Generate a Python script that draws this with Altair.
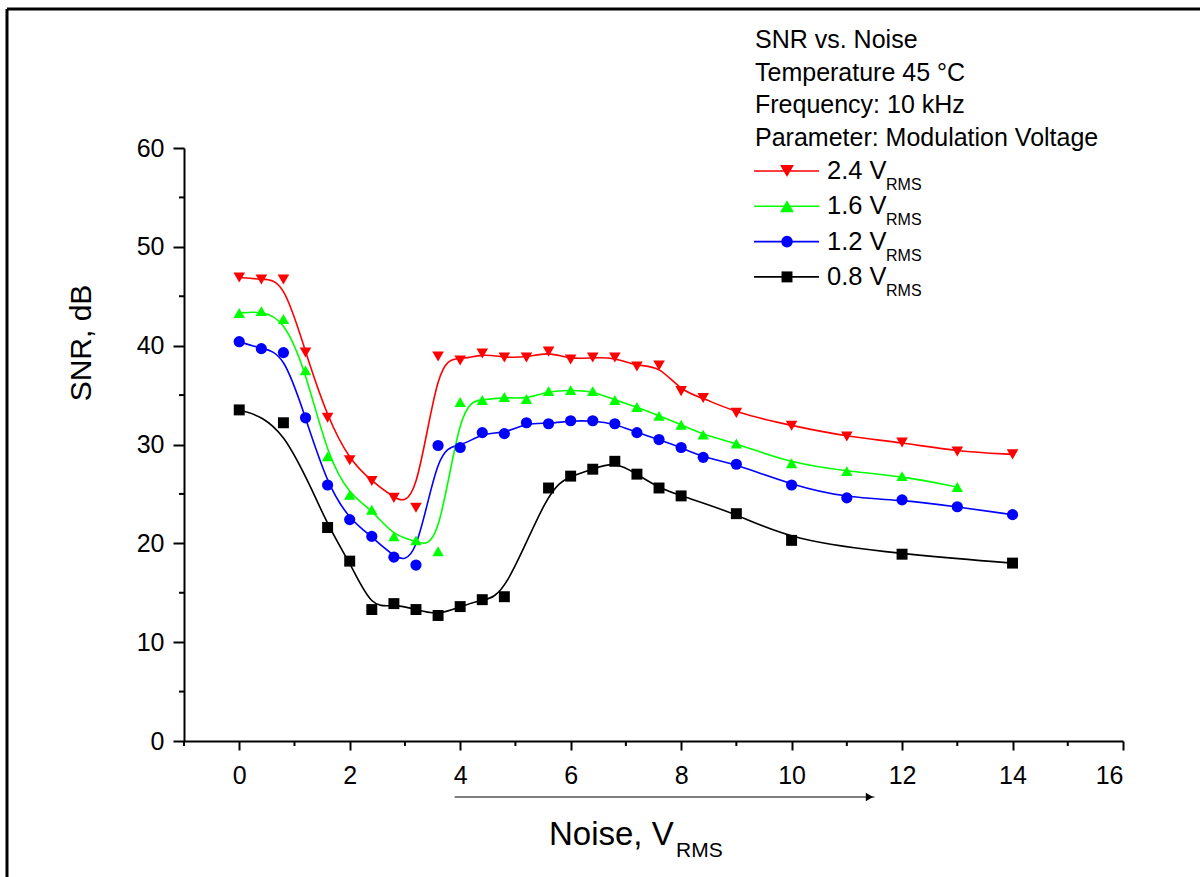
import altair as alt
import pandas as pd

# ---- data ----
x_red = [0, 0.4, 0.8, 1.2, 1.6, 2.0, 2.4, 2.8, 3.2, 3.6, 4.0, 4.4, 4.8, 5.2, 5.6, 6.0, 6.4, 6.8,
         7.2, 7.6, 8.0, 8.4, 9, 10, 11, 12, 13, 14]
snr_red = [46.9, 46.7, 46.7, 39.3, 32.7, 28.4, 26.3, 24.6, 23.6, 38.9, 38.5, 39.2, 38.8, 38.8,
           39.4, 38.6, 38.8, 38.8, 37.9, 38.0, 35.4, 34.7, 33.2, 31.9, 30.8, 30.2, 29.3, 29.0]

x_green = [0, 0.4, 0.8, 1.2, 1.6, 2.0, 2.4, 2.8, 3.2, 3.6, 4.0, 4.4, 4.8, 5.2, 5.6, 6.0, 6.4, 6.8,
           7.2, 7.6, 8.0, 8.4, 9, 10, 11, 12, 13]
snr_green = [43.3, 43.5, 42.7, 37.5, 28.8, 24.9, 23.4, 20.7, 20.3, 19.2, 34.3, 34.5, 34.8, 34.6,
             35.4, 35.5, 35.4, 34.5, 33.8, 32.9, 32.0, 31.0, 30.1, 28.1, 27.3, 26.8, 25.7]

x_blue = [0, 0.4, 0.8, 1.2, 1.6, 2.0, 2.4, 2.8, 3.2, 3.6, 4.0, 4.4, 4.8, 5.2, 5.6, 6.0, 6.4, 6.8,
          7.2, 7.6, 8.0, 8.4, 9, 10, 11, 12, 13, 14]
snr_blue = [40.4, 39.7, 39.3, 32.7, 25.9, 22.4, 20.7, 18.6, 17.8, 29.9, 29.7, 31.2, 31.1, 32.2,
            32.1, 32.4, 32.4, 32.1, 31.2, 30.5, 29.7, 28.7, 28.0, 25.9, 24.6, 24.4, 23.7, 22.9]

x_black = [0, 0.8, 1.6, 2.0, 2.4, 2.8, 3.2, 3.6, 4.0, 4.4, 4.8, 5.6, 6.0, 6.4, 6.8, 7.2, 7.6,
           8.0, 9, 10, 12, 14]
snr_black = [33.5, 32.2, 21.6, 18.2, 13.3, 13.9, 13.3, 12.7, 13.6, 14.3, 14.6, 25.6, 26.8, 27.5,
             28.3, 27.0, 25.6, 24.8, 23.0, 20.3, 18.9, 18.0]

series_names = ["0.8 V", "1.2 V", "1.6 V", "2.4 V"]
series_colors = ["#000000", "#0000FF", "#00FF00", "#FF0000"]
series_shapes = ["square", "circle", "triangle-up", "triangle-down"]
series_sizes = [120, 135, 190, 190]

x_ticks = [0, 2, 4, 6, 8, 10, 12, 14, 16]
x_minor = [-1, 1, 3, 5, 7, 9, 11, 13, 15]
y_ticks = [0, 10, 20, 30, 40, 50, 60]
y_minor = [5, 15, 25, 35, 45, 55]
arrow_x = [3.9, 11.5]

info_lines = ["SNR vs. Noise", "Temperature 45 \u00b0C", "Frequency: 10 kHz",
              "Parameter: Modulation Voltage"]
legend_order = ["2.4 V", "1.6 V", "1.2 V", "0.8 V"]

# ---- build table ----
frames = []
for name, xs, ys in [("0.8 V", x_black, snr_black), ("1.2 V", x_blue, snr_blue),
                     ("1.6 V", x_green, snr_green), ("2.4 V", x_red, snr_red)]:
    frames.append(pd.DataFrame({"noise": xs, "snr": ys, "series": name}))
df = pd.concat(frames, ignore_index=True)

W, H = 939, 593
FONT = "Liberation Sans"
LABEL_SIZE = 25

xscale = alt.Scale(domain=[-1, 16], nice=False, zero=False)
yscale = alt.Scale(domain=[0, 60], nice=False)
cscale = alt.Scale(domain=series_names, range=series_colors)
sscale = alt.Scale(domain=series_names, range=series_shapes)
zscale = alt.Scale(domain=series_names, range=series_sizes)
xaxis = alt.Axis(values=x_ticks, tickSize=9, labelPadding=13, title=None,
                 labelFont=FONT, labelFontSize=LABEL_SIZE, labelColor="black")
yaxis = alt.Axis(values=y_ticks, tickSize=11, labelPadding=9, title=None,
                 labelFont=FONT, labelFontSize=LABEL_SIZE, labelColor="black")

X = alt.X("noise:Q", scale=xscale, axis=xaxis)
Y = alt.Y("snr:Q", scale=yscale, axis=yaxis)

base = alt.Chart(df)

lines = base.mark_line(interpolate="basis", strokeWidth=1.6).encode(
    x=X, y=Y,
    color=alt.Color("series:N", scale=cscale, legend=None),
    detail="series:N",
)

points = base.mark_point(filled=True, opacity=1).encode(
    x=X, y=Y,
    color=alt.Color("series:N", scale=cscale, legend=None),
    shape=alt.Shape("series:N", scale=sscale, legend=None),
    size=alt.Size("series:N", scale=zscale, legend=None),
)

# minor ticks
xminor = alt.Chart(pd.DataFrame({"noise": x_minor})).mark_rule(color="black", strokeWidth=2).encode(
    x=X, y=alt.value(H), y2=alt.value(H + 5),
)
yminor = alt.Chart(pd.DataFrame({"snr": y_minor})).mark_rule(color="black", strokeWidth=2).encode(
    y=Y, x=alt.value(0), x2=alt.value(-5),
)

# arrow under the x axis
arrow_df = pd.DataFrame({"noise": [arrow_x[0]], "noise2": [arrow_x[1]]})
arrow_line = alt.Chart(arrow_df).mark_rule(color="black", strokeWidth=1.2).encode(
    x=X, x2="noise2:Q", y=alt.value(649)
)
arrow_head = alt.Chart(pd.DataFrame({"noise": [arrow_x[1]]})).mark_point(
    shape="triangle-right", filled=True, color="black", opacity=1, size=70
).encode(x=X, y=alt.value(649), xOffset=alt.value(-5))

one = pd.DataFrame({"k": [0]})
layers = [lines, points, xminor, yminor, arrow_line, arrow_head]

# frame lines (top and left) of the original figure
layers.append(alt.Chart(one).mark_rule(color="black", strokeWidth=3).encode(
    x=alt.value(-177), x2=alt.value(1016), y=alt.value(-139)))
layers.append(alt.Chart(one).mark_rule(color="black", strokeWidth=3).encode(
    x=alt.value(-177), y=alt.value(-139), y2=alt.value(729)))

# axis titles
layers.append(alt.Chart(one).mark_text(
    text="Noise, V", font=FONT, fontSize=33, align="left", baseline="middle", color="black"
).encode(x=alt.value(365), y=alt.value(687)))
layers.append(alt.Chart(one).mark_text(
    text="RMS", font=FONT, fontSize=21, align="left", baseline="middle", color="black"
).encode(x=alt.value(492), y=alt.value(703)))
layers.append(alt.Chart(one).mark_text(
    text="SNR, dB", font=FONT, fontSize=30, align="center", baseline="middle",
    angle=270, color="black"
).encode(x=alt.value(-102), y=alt.value(195)))

# info text block
for i, line in enumerate(info_lines):
    layers.append(alt.Chart(one).mark_text(
        text=line, font=FONT, fontSize=25, align="left", baseline="middle", color="black"
    ).encode(x=alt.value(571), y=alt.value(-108 + 32.7 * i)))

# manual legend
cmap = dict(zip(series_names, series_colors))
smap = dict(zip(series_names, series_shapes))
zmap = dict(zip(series_names, series_sizes))
for i, name in enumerate(legend_order):
    yy = 23 + 35.3 * i
    layers.append(alt.Chart(one).mark_rule(color=cmap[name], strokeWidth=1.6).encode(
        x=alt.value(570), x2=alt.value(635), y=alt.value(yy)))
    layers.append(alt.Chart(one).mark_point(
        shape=smap[name], filled=True, color=cmap[name], opacity=1, size=zmap[name]
    ).encode(x=alt.value(603), y=alt.value(yy)))
    layers.append(alt.Chart(one).mark_text(
        text=name, font=FONT, fontSize=25.5, align="left", baseline="middle", color="black"
    ).encode(x=alt.value(643), y=alt.value(yy)))
    layers.append(alt.Chart(one).mark_text(
        text="RMS", font=FONT, fontSize=16, align="left", baseline="middle", color="black"
    ).encode(x=alt.value(702), y=alt.value(yy + 14)))

chart = alt.layer(*layers).properties(
    width=W, height=H,
    autosize=alt.AutoSizeParams(type="none"),
    padding={"left": 184, "top": 148, "right": 77, "bottom": 136},
    background="white",
).configure_view(stroke=None).configure_axis(
    domainColor="black", domainWidth=2, tickColor="black", tickWidth=2,
    labelFont=FONT, labelFontSize=LABEL_SIZE, labelColor="black", grid=False,
)

chart.save("out.html", embed_options={"renderer": "svg", "actions": False})
